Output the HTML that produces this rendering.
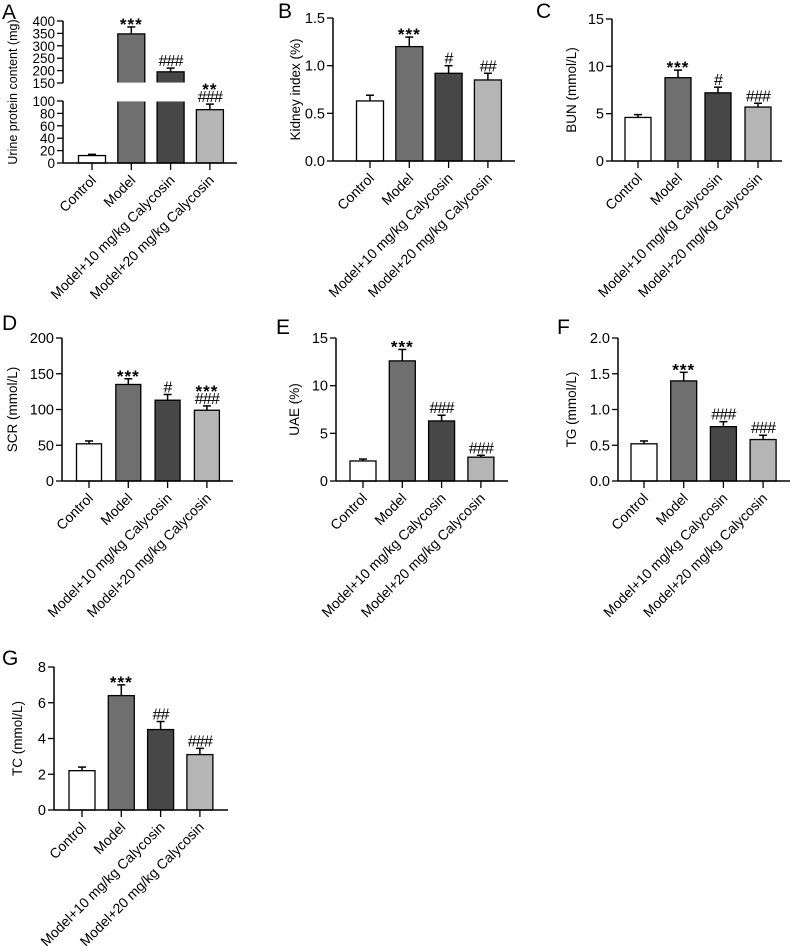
<!DOCTYPE html>
<html><head><meta charset="utf-8"><style>
body{margin:0;background:#fff}
svg{display:block;font-family:"Liberation Sans",Arial,sans-serif}
</style></head><body>
<svg id="fig" width="791" height="946" viewBox="0 0 791 946" xmlns="http://www.w3.org/2000/svg"></svg>
<script>
const categories=["Control","Model","Model+10 mg/kg Calycosin","Model+20 mg/kg Calycosin"];
const colors=["#ffffff","#6f6f6f","#474747","#b5b5b5"];
const valsA=[12,348,195,86], errA=[2,28,15,9], annA=["","***","###","**|###"];
const valsB=[0.63,1.2,0.92,0.85], errB=[0.06,0.1,0.08,0.07], annB=["","***","#","##"];
const valsC=[4.6,8.8,7.2,5.7], errC=[0.3,0.8,0.6,0.4], annC=["","***","#","###"];
const valsD=[52,135,113,99], errD=[4,8,8,6], annD=["","***","#","***|###"];
const valsE=[2.1,12.6,6.3,2.5], errE=[0.2,1.2,0.6,0.2], annE=["","***","###","###"];
const valsF=[0.52,1.4,0.76,0.58], errF=[0.04,0.12,0.07,0.06], annF=["","***","###","###"];
const valsG=[2.2,6.4,4.5,3.1], errG=[0.2,0.6,0.45,0.35], annG=["","***","##","###"];
const ticksA_low=[0,20,40,60,80,100], ticksA_high=[150,200,250,300,350,400];
const ticksB=["0.0","0.5","1.0","1.5"], ticksC=["0","5","10","15"], ticksD=["0","50","100","150","200"];
const ticksE=["0","5","10","15"], ticksF=["0.0","0.5","1.0","1.5","2.0"], ticksG=["0","2","4","6","8"];

const NS="http://www.w3.org/2000/svg";
const svg=document.getElementById('fig');
function el(tag,attrs,parent){const e=document.createElementNS(NS,tag);for(const k in attrs)e.setAttribute(k,attrs[k]);(parent||svg).appendChild(e);return e;}
function txt(s,attrs,parent){const t=el('text',attrs,parent);t.textContent=s;return t;}

function panel(cfg){
  const g=el('g',{});
  
  
  const L=txt(cfg.letter,{x:cfg.lx,y:cfg.ly,'font-size':21},g);
  
  
  const ax=cfg.ax, y0=cfg.y0, x1=cfg.x1;
  const segs=cfg.segs;
  function yOf(v){for(const s of segs){if(v<=s.max||s===segs[segs.length-1])return s.ybot-(Math.min(v,s.max)-s.min)/(s.max-s.min)*(s.ybot-s.ytop);}}
  cfg.vals.forEach((v,i)=>{
    const cx=cfg.cx0+i*cfg.step, w=cfg.bw;
    const top=yOf(v), et=yOf(v+cfg.err[i]);
    const eb=el('line',{x1:cx,x2:cx,y1:top,y2:et,stroke:'#000','stroke-width':1.5},g);
    
    
    el('line',{x1:cx-4,x2:cx+4,y1:et,y2:et,stroke:'#000','stroke-width':1.5},g);
    if(segs.length>1&&v>segs[0].max){
      const b1=el('rect',{x:cx-w/2,y:segs[0].ytop,width:w,height:y0-segs[0].ytop,fill:colors[i],stroke:'#000','stroke-width':1.3},g);
      
      
      const b2=el('rect',{x:cx-w/2,y:top,width:w,height:segs[1].ybot-top,fill:colors[i],stroke:'#000','stroke-width':1.3},g);
      
      
      el('rect',{x:cx-w/2-1,y:segs[1].ybot-0.5,width:w+2,height:segs[0].ytop-segs[1].ybot+1,fill:'#fff'},g);
    } else {
      const b=el('rect',{x:cx-w/2,y:top,width:w,height:y0-top,fill:colors[i],stroke:'#000','stroke-width':1.3},g);
      
      
    }
    const lines=cfg.ann[i]?cfg.ann[i].split('|'):[];
    let yb=et-2;
    lines.reverse().forEach((s,k)=>{
      const star=s[0]==='*';
      const a=txt(s,{x:cx,y:star?yb+5:yb,'text-anchor':'middle','font-size':star?17:16,'font-weight':star?'bold':'normal','letter-spacing':star?'1':'-0.8'},g);
      
      
      yb-=12;
    });
    el('line',{x1:cx,x2:cx,y1:y0,y2:y0+7,stroke:'#000','stroke-width':1.3},g);
    const lab=txt(categories[i],{x:cx+5,y:y0+18,'text-anchor':'end','font-size':14,transform:`rotate(-45 ${cx+5} ${y0+18})`},g);
    
    
  });
  segs.forEach(s=>{
    const a=el('line',{x1:ax,x2:ax,y1:s.ybot,y2:s.ytop,stroke:'#000','stroke-width':1.5},g);
    
    
    s.ticks.forEach(t=>{
      const y=s.ybot-(parseFloat(t)-s.min)/(s.max-s.min)*(s.ybot-s.ytop);
      el('line',{x1:ax-6,x2:ax,y1:y,y2:y,stroke:'#000','stroke-width':1.3},g);
      const tl=txt(t,{x:ax-8,y:y+5,'text-anchor':'end','font-size':cfg.tkfs||14.5},g);
      
      
    });
  });
  const xa=el('line',{x1:ax,x2:x1,y1:y0,y2:y0,stroke:'#000','stroke-width':1.5},g);
  
  
  const ymid=(segs[0].ybot+segs[segs.length-1].ytop)/2;
  const yt=txt(cfg.title,{x:cfg.tx,y:ymid,'text-anchor':'middle','font-size':cfg.tfs||13.5,transform:`rotate(-90 ${cfg.tx} ${ymid})`},g);
  
  
}
function seg(t,yb,yt){return [{min:parseFloat(t[0]),max:parseFloat(t[t.length-1]),ybot:yb,ytop:yt,ticks:t}];}

panel({letter:'A',lx:2,ly:19,ax:63,y0:163,x1:237,cx0:92,step:39.3,bw:27,vals:valsA,err:errA,ann:annA,tx:17,tfs:12.5,tkfs:13.5,title:'Urine protein content (mg)',
  segs:[{min:0,max:100,ybot:163,ytop:101,ticks:ticksA_low.map(String)},{min:150,max:400,ybot:83,ytop:21,ticks:ticksA_high.map(String)}]});
panel({letter:'B',lx:278,ly:18,ax:333,y0:161,x1:515,cx0:370,step:39.3,bw:27,vals:valsB,err:errB,ann:annB,tx:300,title:'Kidney index (%)',segs:seg(ticksB,161,18)});
panel({letter:'C',lx:536,ly:18,ax:612,y0:161,x1:782,cx0:638,step:40,bw:26,vals:valsC,err:errC,ann:annC,tx:576,title:'BUN (mmol/L)',segs:seg(ticksC,161,19)});
panel({letter:'D',lx:2,ly:330,ax:62,y0:481,x1:233,cx0:89,step:39.3,bw:25,vals:valsD,err:errD,ann:annD,tx:17,title:'SCR (mmol/L)',segs:seg(ticksD,481,338)});
panel({letter:'E',lx:276,ly:334,ax:336,y0:481,x1:508,cx0:363,step:39.3,bw:26,vals:valsE,err:errE,ann:annE,tx:299,title:'UAE (%)',segs:seg(ticksE,481,338)});
panel({letter:'F',lx:557,ly:334,ax:618,y0:481,x1:790,cx0:644,step:39.7,bw:26,vals:valsF,err:errF,ann:annF,tx:576,title:'TG (mmol/L)',segs:seg(ticksF,481,338)});
panel({letter:'G',lx:2,ly:665,ax:54,y0:810,x1:228,cx0:82,step:39.3,bw:26,vals:valsG,err:errG,ann:annG,tx:22,title:'TC (mmol/L)',segs:seg(ticksG,810,667)});
</script>
</body></html>
